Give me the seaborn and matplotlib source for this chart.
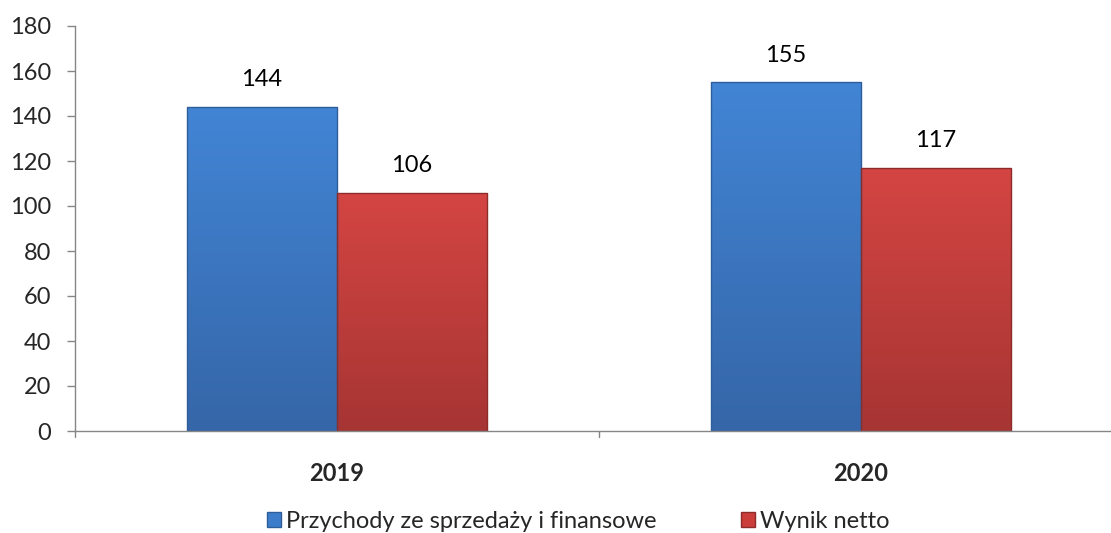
import matplotlib
matplotlib.use("Agg")
import matplotlib.pyplot as plt
import matplotlib.colors as mcolors
from matplotlib.patches import Patch
import seaborn as sns
import pandas as pd
import numpy as np

years = ["2019", "2020"]
series_names = ["Przychody ze sprzedaży i finansowe", "Wynik netto"]
przychody = [144, 155]
wynik = [106, 117]
yticks = [0, 20, 40, 60, 80, 100, 120, 140, 160, 180]

df = pd.DataFrame({
    "Rok": years * 2,
    "Seria": [series_names[0]] * 2 + [series_names[1]] * 2,
    "Wartość": przychody + wynik,
})

sns.set_theme(style="white")
plt.rcParams['font.family'] = ['Lato', 'DejaVu Sans']
FS = 17

fig = plt.figure(figsize=(11.11, 5.33), dpi=100)
ax = fig.add_axes([75/1111, 1 - 431/533, 1048/1111, (431-26)/533])

palette = {series_names[0]: "#3D7CCB", series_names[1]: "#CB3D3B"}
sns.barplot(data=df, x="Rok", y="Wartość", hue="Seria", palette=palette,
            width=0.573, ax=ax, saturation=1, legend=False)

grad = {series_names[0]: ("#4285D5", "#3566A8"), series_names[1]: ("#D44543", "#A63533")}
edge = {series_names[0]: "#2E5E9A", series_names[1]: "#8E2C2A"}
for cont, name in zip(ax.containers, series_names):
    cmap = mcolors.LinearSegmentedColormap.from_list(name, [grad[name][1], grad[name][0]])
    for p in cont.patches:
        x0, y0 = p.get_x(), p.get_y()
        w, h = p.get_width(), p.get_height()
        g = np.linspace(0, 1, 256).reshape(-1, 1)
        im = ax.imshow(g, cmap=cmap, origin="lower", aspect="auto",
                       extent=(x0, x0 + w, y0, y0 + h), zorder=1.5)
        im.set_clip_path(p)
        p.set_facecolor("none")
        p.set_edgecolor(edge[name])
        p.set_linewidth(1.0)
        p.set_zorder(2)
    ax.bar_label(cont, labels=[f"{v:.0f}" for v in cont.datavalues], padding=12,
                 fontsize=FS, color="black")

ax.set_xlim(-0.5, 1.5)
ax.set_ylim(0, 180)
ax.set_yticks(yticks)
ax.set_yticklabels([str(t) for t in yticks], fontsize=FS)
ax.set_xlabel("")
ax.set_ylabel("")
ax.set_xticks([0, 1])
ax.set_xticklabels(years, fontsize=FS, fontweight="bold")
ax.tick_params(axis="x", length=0, pad=22)
ax.tick_params(axis="y", length=6, width=1, color="#868686", left=True, pad=11)
for t in [-0.5, 0.5]:
    ax.plot([t, t], [0, -0.015], transform=ax.get_xaxis_transform(), color="#868686",
            lw=1, clip_on=False)

for s in ["top", "right"]:
    ax.spines[s].set_visible(False)
for s in ["left", "bottom"]:
    ax.spines[s].set_color("#868686")
    ax.spines[s].set_linewidth(1)

handles = [Patch(facecolor=palette[n], edgecolor=edge[n]) for n in series_names]
fig.legend(handles, series_names, loc="center", bbox_to_anchor=(578/1111, 1 - 521/533), ncol=2,
           frameon=False, fontsize=FS, handlelength=0.6, handleheight=0.6,
           handletextpad=0.2, columnspacing=3.6)

fig.savefig("out.png", dpi=100)
